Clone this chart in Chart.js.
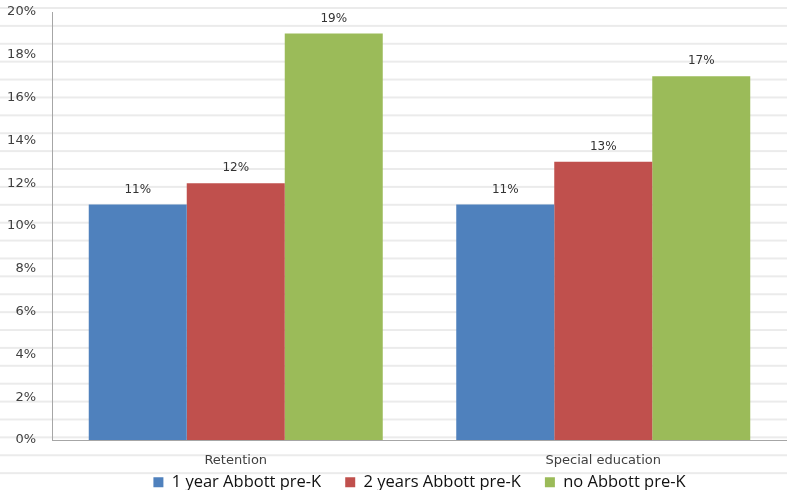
<!DOCTYPE html>
<html>
<head>
<meta charset="utf-8">
<script src="https://cdn.jsdelivr.net/npm/chart.js@4.4.1/dist/chart.umd.min.js"></script>
<style>
    html, body {
        margin: 0;
        padding: 0;
    }
    body {
        width: 787px;
        height: 490px;
        background-color: #fff;
        background-image: linear-gradient(to bottom, #ebebeb 0px, #ebebeb 2px, transparent 2px, transparent 100%);
        background-size: 100% 17.9px;
        background-position: 0 7px;
    }
    #wrap {
        position: relative;
        width: 787px;
        height: 490px;
    }
</style>
</head>
<body>
<div id="wrap"><canvas id="myChart"></canvas></div>
<script>
var categories = ['Retention', 'Special education']
var oneYear = [11, 11]
var twoYears = [12, 13]
var noPreK = [19, 17]
var seriesNames = ['1 year Abbott pre-K', '2 years Abbott pre-K', 'no Abbott pre-K']
var yTicks = [0, 2, 4, 6, 8, 10, 12, 14, 16, 18, 20]

// labels above each bar, drawn from the bar elements
var barValues = {
    id: 'barValues',
    afterDatasetsDraw: function (chart) {
        var c = chart.ctx
        c.save()
        c.font = '12px "DejaVu Sans"'
        c.fillStyle = '#333'
        c.textAlign = 'center'
        c.textBaseline = 'middle'
        chart.data.datasets.forEach(function (ds, i) {
            chart.getDatasetMeta(i).data.forEach(function (bar, j) {
                c.fillText(ds.data[j] + '%', bar.x, bar.y - 15)
            })
        })
        c.restore()
    }
}

// legend sits tight under the category labels
var legendUp = {
    id: 'legendUp',
    afterLayout: function (chart) {
        chart.legend.top -= 20
    }
}

const ctx = document.getElementById('myChart');
new Chart(ctx, {
    type: 'bar',
    data: {
        labels: categories,
        datasets: [{
            label: seriesNames[0],
            data: oneYear,
            backgroundColor: '#4f81bd'
        }, {
            label: seriesNames[1],
            data: twoYears,
            backgroundColor: '#c0504d'
        }, {
            label: seriesNames[2],
            data: noPreK,
            backgroundColor: '#9bbb59'
        }]
    },
    options: {
        responsive: true,
        maintainAspectRatio: false,
        animation: false,
        categoryPercentage: 0.8,
        barPercentage: 1.0,
        layout: {
            padding: { top: 12, right: 0, bottom: 0, left: 0 }
        },
        scales: {
            x: {
                afterFit: function (axis) {
                    axis.height = 30
                },
                grid: { display: false, drawTicks: false },
                border: { color: '#a6a6a6' },
                ticks: {
                    padding: 13,
                    color: '#404040',
                    font: { family: 'DejaVu Sans', size: 13 }
                }
            },
            y: {
                min: 0,
                max: 20,
                afterBuildTicks: function (axis) {
                    axis.ticks = yTicks.map(function (v) { return { value: v } })
                },
                afterFit: function (axis) {
                    axis.width = 52
                    axis.paddingTop = 0
                    axis.paddingBottom = 0
                },
                grid: { display: false, drawTicks: false },
                border: { color: '#a6a6a6' },
                ticks: {
                    padding: 16,
                    color: '#404040',
                    font: { family: 'DejaVu Sans', size: 13 },
                    callback: function (v) { return v + '%' }
                }
            }
        },
        plugins: {
            legend: {
                position: 'bottom',
                fullSize: false,
                maxHeight: 20,
                labels: {
                    boxWidth: 10,
                    boxHeight: 10,
                    padding: 24,
                    color: '#111',
                    font: { family: 'Open Sans', size: 16.5 }
                }
            },
            tooltip: { enabled: false }
        }
    },
    plugins: [barValues, legendUp]
});
</script>
</body>
</html>
